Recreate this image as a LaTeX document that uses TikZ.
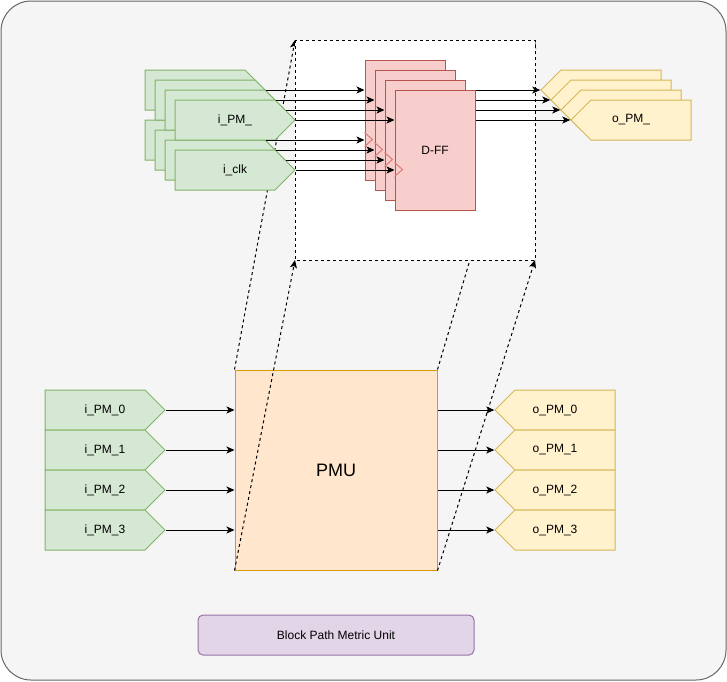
\documentclass[tikz,border=0pt]{standalone}
\usepackage{fontspec}
\setmainfont{Liberation Sans}
\usetikzlibrary{arrows.meta, shapes.symbols, positioning}

\definecolor{bgfill}{HTML}{F5F5F5}
\definecolor{bgline}{HTML}{666666}
\definecolor{greenfill}{HTML}{D5E8D4}
\definecolor{greenline}{HTML}{82B366}
\definecolor{yellowfill}{HTML}{FFF2CC}
\definecolor{yellowline}{HTML}{D6B656}
\definecolor{redfill}{HTML}{F8CECC}
\definecolor{redline}{HTML}{B85450}
\definecolor{clkline}{HTML}{E07A76}
\definecolor{orangefill}{HTML}{FFE6CC}
\definecolor{orangeline}{HTML}{D79B00}
\definecolor{purplefill}{HTML}{E1D5E7}
\definecolor{purpleline}{HTML}{9673A6}

\tikzset{
  port/.style={signal, signal from=nowhere, signal pointer angle=90, line width=1pt,
    minimum width=120pt, minimum height=40pt, inner sep=0pt},
  inport/.style={port, signal to=east, draw=greenline, fill=greenfill},
  outport/.style={port, signal to=west, draw=yellowline, fill=yellowfill},
  intext/.style={xshift=10pt, font=\fontsize{12}{14}\selectfont},
  outtext/.style={xshift=-10pt, font=\fontsize{12}{14}\selectfont},
  ffbox/.style={draw=redline, fill=redfill, line width=1pt, minimum width=80pt, minimum height=120pt,
    font=\fontsize{12}{14}\selectfont},
  clkmark/.style={draw=clkline, line width=1pt},
  wire/.style={-{Stealth[length=8pt,width=7pt,inset=2pt]}, line width=1pt},
  guide/.style={wire, dash pattern=on 3pt off 3pt}
}

\begin{document}
\begin{tikzpicture}[x=1pt, y=-1pt]
\useasboundingbox (0,0) rectangle (727,681);
\draw[draw=bgline, fill=bgfill, line width=1pt, rounded corners=30pt] (1,1) rectangle (726,680);

% block
\node[draw=orangeline, fill=orangefill, line width=1pt, minimum width=202pt, minimum height=200pt,
  font=\fontsize{18}{22}\selectfont] (pmu) at (336,470) {PMU};

\node[inport, label={[intext]center:i\_PM\_0}] (in0) at (95,410) {};
\node[inport, label={[intext]center:i\_PM\_1}] (in1) at (95,450) {};
\node[inport, label={[intext]center:i\_PM\_2}] (in2) at (95,490) {};
\node[inport, label={[intext]center:i\_PM\_3}] (in3) at (95,530) {};
\node[outport, label={[outtext]center:o\_PM\_0}] (out0) at (565,410) {};
\node[outport, label={[outtext]center:o\_PM\_1}] (out1) at (565,450) {};
\node[outport, label={[outtext]center:o\_PM\_2}] (out2) at (565,490) {};
\node[outport, label={[outtext]center:o\_PM\_3}] (out3) at (565,530) {};

\draw[wire] (in0.east) -- (pmu.west |- in0.east);
\draw[wire] (in1.east) -- (pmu.west |- in1.east);
\draw[wire] (in2.east) -- (pmu.west |- in2.east);
\draw[wire] (in3.east) -- (pmu.west |- in3.east);
\draw[wire] (pmu.east |- out0.west) -- (out0.west);
\draw[wire] (pmu.east |- out1.west) -- (out1.west);
\draw[wire] (pmu.east |- out2.west) -- (out2.west);
\draw[wire] (pmu.east |- out3.west) -- (out3.west);

\node[draw=purpleline, fill=purplefill, line width=1pt, rounded corners=5pt, minimum width=276pt,
  minimum height=40pt, font=\fontsize{12}{14}\selectfont] (title) at (336,635) {Block Path Metric Unit};

% zoomed view
\coordinate (zNW) at (295,40);
\coordinate (zNE) at (535,40);
\coordinate (zSW) at (295,260);
\coordinate (zSE) at (535,260);
\draw[guide] (pmu.north west) -- (zNW);
\draw[guide] (pmu.south west) -- (zSW);
\draw[guide] (pmu.north east) -- (zNE);
\draw[guide] (pmu.south east) -- (zSE);
\draw[fill=white, line width=1pt, dash pattern=on 3pt off 3pt] (zNW) rectangle (zSE);

\node[inport] (clk1) at (195,140) {};
\node[inport] (clk2) at (205,150) {};
\node[inport] (clk3) at (215,160) {};
\node[inport, label={[intext]center:i\_clk}] (clk4) at (225,170) {};
\node[inport] (pm1) at (195,90) {};
\node[inport] (pm2) at (205,100) {};
\node[inport] (pm3) at (215,110) {};
\node[inport, label={[intext]center:i\_PM\_}] (pm4) at (225,120) {};

\node[ffbox] (dff1) at (405,120) {};
\draw[clkmark] ([yshift=-73pt]dff1.north west) -- ++(8,7) -- ++(-8,7);
\node[ffbox] (dff2) at (415,130) {};
\draw[clkmark] ([yshift=-73pt]dff2.north west) -- ++(8,7) -- ++(-8,7);
\node[ffbox] (dff3) at (425,140) {};
\draw[clkmark] ([yshift=-73pt]dff3.north west) -- ++(8,7) -- ++(-8,7);
\node[ffbox] (dff4) at (435,150) {D-FF};
\draw[clkmark] ([yshift=-73pt]dff4.north west) -- ++(8,7) -- ++(-8,7);

\draw[wire] (pm1.east) -- (dff1.west |- pm1.east);
\draw[wire] (pm2.east) -- (dff2.west |- pm2.east);
\draw[wire] (pm3.east) -- (dff3.west |- pm3.east);
\draw[wire] (pm4.east) -- (dff4.west |- pm4.east);
\draw[wire] (clk1.east) -- (dff1.west |- clk1.east);
\draw[wire] (clk2.east) -- (dff2.west |- clk2.east);
\draw[wire] (clk3.east) -- (dff3.west |- clk3.east);
\draw[wire] (clk4.east) -- (dff4.west |- clk4.east);

\node[outport] (opm1) at (611,90) {};
\node[outport] (opm2) at (621,100) {};
\node[outport] (opm3) at (631,110) {};
\node[outport, label={[outtext]center:o\_PM\_}] (opm4) at (641,120) {};

\draw[wire] (dff4.east |- opm1.west) -- (opm1.west);
\draw[wire] (dff4.east |- opm2.west) -- (opm2.west);
\draw[wire] (dff4.east |- opm3.west) -- (opm3.west);
\draw[wire] (dff4.east |- opm4.west) -- (opm4.west);
\end{tikzpicture}
\end{document}
